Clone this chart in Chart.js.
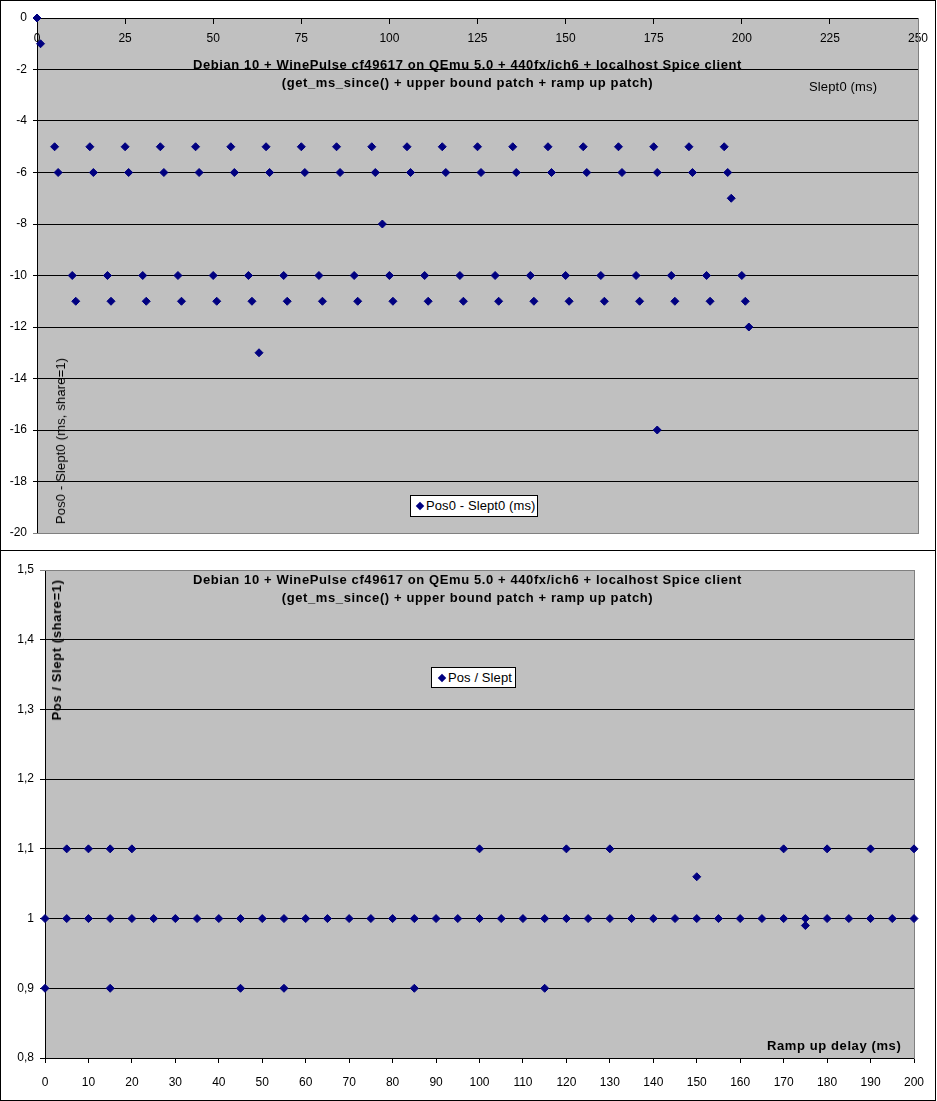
<!DOCTYPE html>
<html>
<head>
<meta charset="utf-8">
<script src="https://cdn.jsdelivr.net/npm/chart.js@4.4.0/dist/chart.umd.min.js"></script>
<style>
  body { margin: 0; background: #fff; font-family: "Liberation Sans", Arial, sans-serif; }
  #page { position: relative; width: 937px; height: 1101px; overflow: hidden; }
  #frame { position: absolute; left: 0; top: 0; width: 936px; height: 1101px; box-sizing: border-box; border: 1px solid #000; }
  #sep { position: absolute; left: 0; top: 550px; width: 936px; height: 1px; background: #000; }
  canvas { position: absolute; left: 0; }
  .t { position: absolute; font-size: 13px; letter-spacing: 0.15px; line-height: 18px; white-space: nowrap; color: #000; }
  .b { font-weight: bold; letter-spacing: 0.6px; }
  .title { left: 0; width: 935px; text-align: center; }
  .rot { transform: translate(-50%, -50%) rotate(-90deg); }
  .legend { position: absolute; background: #fff; border: 1px solid #000; box-sizing: border-box; }
  .legend .mk { position: absolute; width: 6px; height: 6px; background: #000080; transform: rotate(45deg); }
  .legend .lt { position: absolute; font-size: 13px; letter-spacing: 0.1px; line-height: 18px; white-space: nowrap; }
</style>
</head>
<body>
<div id="page">
  <canvas id="topChart" width="937" height="550" style="top:0"></canvas>
  <canvas id="botChart" width="937" height="550" style="top:551px"></canvas>

  <div class="t b title" style="top:56px">Debian 10 + WinePulse cf49617 on QEmu 5.0 + 440fx/ich6 + localhost Spice client</div>
  <div class="t b title" style="top:74px">(get_ms_since() + upper bound patch + ramp up patch)</div>
  <div class="t" style="left:809px;top:78px">Slept0 (ms)</div>
  <div class="t rot" style="left:61px;top:441px">Pos0 - Slept0 (ms, share=1)</div>
  <div class="legend" style="left:410px;top:495px;width:128px;height:22px">
    <div class="mk" style="left:6px;top:7px"></div>
    <div class="lt" style="left:15px;top:1px">Pos0 - Slept0 (ms)</div>
  </div>

  <div class="t b title" style="top:571px">Debian 10 + WinePulse cf49617 on QEmu 5.0 + 440fx/ich6 + localhost Spice client</div>
  <div class="t b title" style="top:589px">(get_ms_since() + upper bound patch + ramp up patch)</div>
  <div class="t b rot" style="left:57px;top:650px">Pos / Slept (share=1)</div>
  <div class="t b" style="left:767px;top:1037px">Ramp up delay (ms)</div>
  <div class="legend" style="left:431px;top:667px;width:85px;height:21px">
    <div class="mk" style="left:7px;top:7px"></div>
    <div class="lt" style="left:16px;top:1px">Pos / Slept</div>
  </div>

  <div id="frame"></div>
  <div id="sep"></div>
</div>
<script>
// top chart: Slept0 vs Pos0 - Slept0
var slept0 = [0, 1, 5, 6, 10, 11, 15, 16, 20, 21, 25, 26, 30, 31, 35, 36, 40, 41, 45, 46,
  50, 51, 55, 56, 60, 61, 63, 65, 66, 70, 71, 75, 76, 80, 81, 85, 86, 90, 91, 95, 96, 98,
  100, 101, 105, 106, 110, 111, 115, 116, 120, 121, 125, 126, 130, 131, 135, 136, 140, 141,
  145, 146, 150, 151, 155, 156, 160, 161, 165, 166, 170, 171, 175, 176, 176, 180, 181,
  185, 186, 190, 191, 195, 196, 197, 200, 201, 202];
var posMinusSlept0 = [0, -1, -5, -6, -10, -11, -5, -6, -10, -11, -5, -6, -10, -11, -5, -6, -10, -11, -5, -6,
  -10, -11, -5, -6, -10, -11, -13, -5, -6, -10, -11, -5, -6, -10, -11, -5, -6, -10, -11, -5, -6, -8,
  -10, -11, -5, -6, -10, -11, -5, -6, -10, -11, -5, -6, -10, -11, -5, -6, -10, -11,
  -5, -6, -10, -11, -5, -6, -10, -11, -5, -6, -10, -11, -5, -6, -16, -10, -11,
  -5, -6, -10, -11, -5, -6, -7, -10, -11, -12];

// bottom chart: ramp up delay vs Pos / Slept
var rampDelay = [0, 0, 5, 5, 10, 10, 15, 15, 15, 20, 20, 25, 30, 35, 40, 45, 45, 50, 55, 55,
  60, 65, 70, 75, 80, 85, 85, 90, 95, 100, 100, 105, 110, 115, 115, 120, 120, 125, 130, 130,
  135, 140, 145, 150, 150, 155, 160, 165, 170, 170, 175, 175, 180, 180, 185, 190, 190, 195, 200, 200];
var posSlept = [1, 0.9, 1.1, 1, 1.1, 1, 1.1, 1, 0.9, 1.1, 1, 1, 1, 1, 1, 1, 0.9, 1, 1, 0.9,
  1, 1, 1, 1, 1, 1, 0.9, 1, 1, 1.1, 1, 1, 1, 1, 0.9, 1.1, 1, 1, 1.1, 1,
  1, 1, 1, 1.06, 1, 1, 1, 1, 1.1, 1, 1, 0.99, 1.1, 1, 1, 1.1, 1, 1, 1.1, 1];

var topXTicks = [0, 250, 25];
var topYTicks = [-20, 0, 2];
var botXTicks = [0, 200, 10];
var botYTicks = [0.8, 1.5, 0.1];

var navy = '#000080';
Chart.defaults.font.family = '"Liberation Sans", Arial, sans-serif';
Chart.defaults.font.size = 12;
Chart.defaults.color = '#000';

const plotBg = {
  id: 'plotBg',
  beforeDraw(chart) {
    const a = chart.chartArea, ctx = chart.ctx;
    ctx.save();
    ctx.fillStyle = '#c0c0c0';
    ctx.fillRect(a.left, a.top, a.right - a.left, a.bottom - a.top);
    ctx.restore();
  },
  beforeDatasetsDraw(chart, args, opts) {
    const a = chart.chartArea, ctx = chart.ctx;
    ctx.save();
    ctx.strokeStyle = '#808080';
    ctx.lineWidth = 1;
    ctx.beginPath();
    (opts.edges || []).forEach(function (e) {
      if (e === 'right') { ctx.moveTo(a.right + 0.5, a.top); ctx.lineTo(a.right + 0.5, a.bottom + 1); }
      if (e === 'bottom') { ctx.moveTo(a.left, a.bottom + 0.5); ctx.lineTo(a.right + 1, a.bottom + 0.5); }
      if (e === 'top') { ctx.moveTo(a.left, a.top + 0.5); ctx.lineTo(a.right + 1, a.top + 0.5); }
    });
    ctx.stroke();
    ctx.restore();
  }
};

function points(xs, ys) {
  return xs.map(function (x, i) { return { x: x, y: ys[i] }; });
}

function dataset(label, xs, ys) {
  return {
    label: label,
    data: points(xs, ys),
    pointStyle: 'rectRot',
    pointRadius: 4,
    backgroundColor: navy,
    borderColor: navy,
    borderWidth: 1,
    showLine: false,
    clip: false
  };
}

// Graphs
new Chart(document.getElementById('topChart'), {
  type: 'scatter',
  data: { datasets: [dataset('Pos0 - Slept0 (ms)', slept0, posMinusSlept0)] },
  options: {
    responsive: false,
    animation: false,
    devicePixelRatio: 1,
    events: [],
    layout: { padding: { left: 0, top: 18, right: 19, bottom: 17 } },
    plugins: { legend: { display: false }, tooltip: { enabled: false }, plotBg: { edges: ['right', 'bottom'] } },
    scales: {
      x: {
        type: 'linear',
        position: { y: 0 },
        min: topXTicks[0], max: topXTicks[1],
        ticks: { stepSize: topXTicks[2], padding: 8, maxRotation: 0, autoSkip: false },
        grid: { drawOnChartArea: false, tickLength: 5, color: '#000' },
        border: { color: '#000' },
        afterFit(s) { s.height = 0; s.paddingLeft = 0; s.paddingRight = 0; }
      },
      y: {
        min: topYTicks[0], max: topYTicks[1],
        ticks: { stepSize: topYTicks[2], padding: 6 },
        grid: { tickLength: 4, color: function (c) { return c.tick && c.tick.value === -20 ? '#808080' : '#000'; } },
        border: { color: '#000' },
        afterFit(s) { s.width = 37; s.paddingTop = 0; s.paddingBottom = 0; }
      }
    }
  },
  plugins: [plotBg]
});

new Chart(document.getElementById('botChart'), {
  type: 'scatter',
  data: { datasets: [dataset('Pos / Slept', rampDelay, posSlept)] },
  options: {
    responsive: false,
    animation: false,
    devicePixelRatio: 1,
    events: [],
    layout: { padding: { left: 0, top: 19, right: 23, bottom: 0 } },
    plugins: { legend: { display: false }, tooltip: { enabled: false }, plotBg: { edges: ['right', 'top'] } },
    scales: {
      x: {
        type: 'linear',
        position: 'bottom',
        min: botXTicks[0], max: botXTicks[1],
        ticks: { stepSize: botXTicks[2], padding: 12, maxRotation: 0, autoSkip: false },
        grid: { drawOnChartArea: false, tickLength: 5, color: '#000' },
        border: { color: '#000' },
        afterFit(s) { s.height = 43; s.paddingLeft = 0; s.paddingRight = 0; }
      },
      y: {
        min: botYTicks[0], max: botYTicks[1],
        ticks: {
          stepSize: botYTicks[2], padding: 6,
          callback: function (v) { return String(Math.round(v * 10) / 10).replace('.', ','); }
        },
        grid: { tickLength: 5, color: function (c) { return c.tick && Math.abs(c.tick.value - 1.5) < 1e-6 ? '#808080' : '#000'; } },
        border: { color: '#000' },
        afterFit(s) { s.width = 45; s.paddingTop = 0; s.paddingBottom = 0; }
      }
    }
  },
  plugins: [plotBg]
});
</script>
</body>
</html>
